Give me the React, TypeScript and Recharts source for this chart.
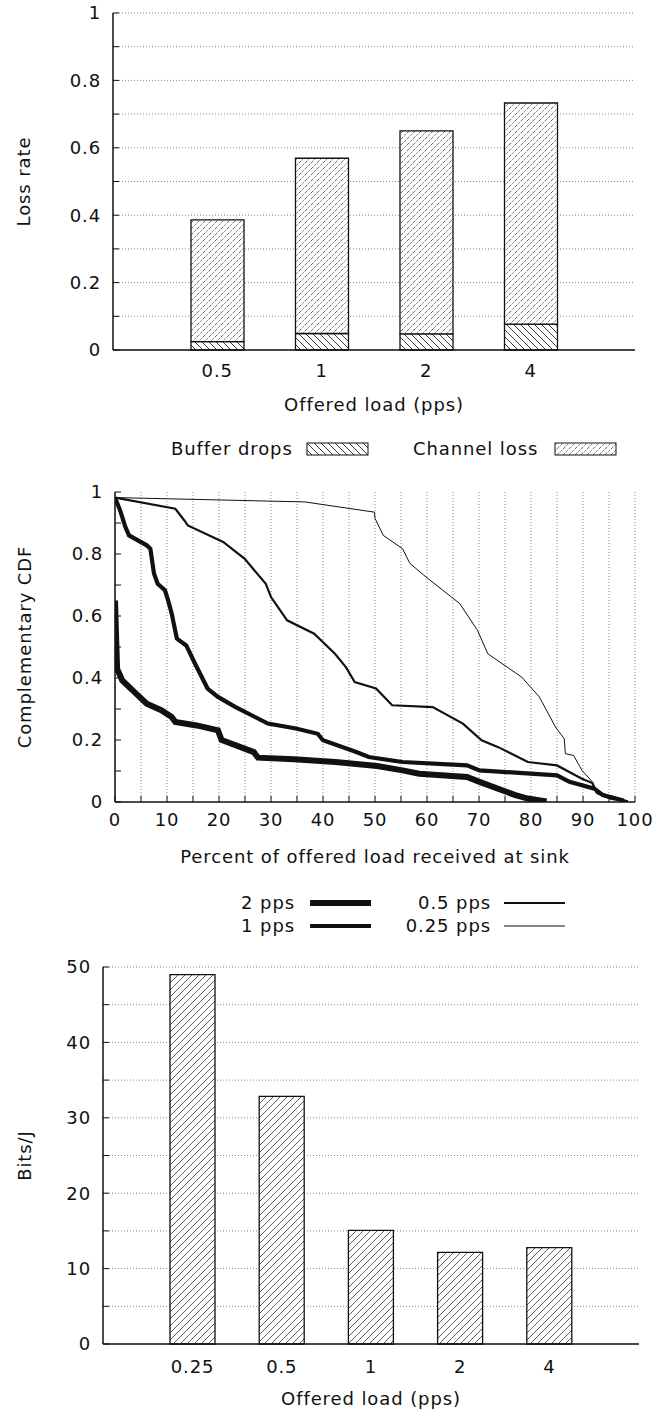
import { BarChart, Bar, LineChart, Line, XAxis, YAxis, CartesianGrid } from 'recharts';

const INK = '#111';
const GRID = '#8a8a8a';
const FONT = "'DejaVu Sans', sans-serif";

// --- top chart: loss rate, stacked
const LOADS_TOP = ['0.5', '1', '2', '4'];
const BUFFER_DROPS = [0.025, 0.049, 0.048, 0.077];
const CHANNEL_LOSS = [0.361, 0.52, 0.602, 0.656];
const LOSS_TICKS = [0, 0.1, 0.2, 0.3, 0.4, 0.5, 0.6, 0.7, 0.8, 0.9, 1];
const LOSS_LABELS = ['0', '', '0.2', '', '0.4', '', '0.6', '', '0.8', '', '1'];

// --- middle chart: complementary CDF per offered load
const CDF_X_TICKS = [0, 5, 10, 15, 20, 25, 30, 35, 40, 45, 50, 55, 60, 65, 70, 75, 80, 85, 90, 95, 100];
const CDF_X_LABELS = ['0', '', '10', '', '20', '', '30', '', '40', '', '50', '', '60', '', '70', '', '80', '', '90', '', '100'];
const CDF_Y_TICKS = [0, 0.1, 0.2, 0.3, 0.4, 0.5, 0.6, 0.7, 0.8, 0.9, 1];
const CDF_Y_LABELS = ['0', '', '0.2', '', '0.4', '', '0.6', '', '0.8', '', '1'];

const PPS2_X = [0, 0.4, 1.4, 4.1, 6.1, 8.9, 10.9, 11.6, 15.7, 19.8, 20.5, 26.7, 27.5, 34.4, 42.4, 50.4, 55.3, 58.5, 67.7, 70.1, 77, 79.4, 83];
const PPS2_Y = [0.65, 0.43, 0.392, 0.349, 0.317, 0.296, 0.274, 0.258, 0.247, 0.231, 0.2, 0.161, 0.143, 0.138, 0.129, 0.116, 0.102, 0.091, 0.081, 0.065, 0.022, 0.011, 0.002];

const PPS1_X = [0, 1, 2, 2.7, 6.1, 6.8, 7.5, 8.2, 9.6, 10.2, 10.9, 11.9, 13.7, 15.4, 17.8, 19.8, 23.2, 29.4, 34.8, 39, 40, 46.4, 48.8, 55.3, 67.7, 70.1, 85, 87.4, 92.2, 93.8, 97.8];
const PPS1_Y = [0.982, 0.94, 0.887, 0.86, 0.828, 0.817, 0.737, 0.704, 0.683, 0.651, 0.608, 0.527, 0.505, 0.446, 0.366, 0.339, 0.306, 0.253, 0.237, 0.22, 0.199, 0.161, 0.145, 0.129, 0.118, 0.102, 0.086, 0.065, 0.043, 0.022, 0.005];

const PPS05_X = [0, 11.6, 13.3, 14, 20.8, 24.9, 29, 30, 33.1, 38.3, 42.3, 44.4, 46.1, 50.2, 53.3, 61.1, 66.9, 70.5, 73.7, 79.4, 85, 89.8, 91.8, 92.6, 98.6];
const PPS05_Y = [0.982, 0.946, 0.909, 0.892, 0.839, 0.785, 0.704, 0.661, 0.586, 0.543, 0.478, 0.435, 0.387, 0.366, 0.312, 0.306, 0.253, 0.199, 0.177, 0.129, 0.118, 0.075, 0.061, 0.032, 0.002];

const PPS025_X = [0, 36.5, 49.9, 50, 51.6, 55.3, 56.7, 59.8, 66.3, 69.7, 71.7, 78.2, 79.9, 81.6, 84.7, 86.4, 86.6, 88.2, 89.8, 91.8, 92.6, 95.4, 98.6];
const PPS025_Y = [0.982, 0.968, 0.935, 0.915, 0.86, 0.817, 0.77, 0.726, 0.64, 0.554, 0.478, 0.403, 0.371, 0.339, 0.242, 0.204, 0.156, 0.15, 0.102, 0.065, 0.027, 0.008, 0.002];

// --- bottom chart: energy efficiency
const LOADS_BOTTOM = ['0.25', '0.5', '1', '2', '4'];
const BITS_PER_J = [49.0, 32.85, 15.07, 12.16, 12.78];
const BITS_TICKS = [0, 5, 10, 15, 20, 25, 30, 35, 40, 45, 50];
const BITS_LABELS = ['0', '', '10', '', '20', '', '30', '', '40', '', '50'];

const zip = (xs: number[], ys: number[]) => xs.map((x, i) => ({ x, y: ys[i] }));

const CDF_SERIES = [
  { name: '2 pps', data: zip(PPS2_X, PPS2_Y), width: 6 },
  { name: '1 pps', data: zip(PPS1_X, PPS1_Y), width: 4.2 },
  { name: '0.5 pps', data: zip(PPS05_X, PPS05_Y), width: 2.2 },
  { name: '0.25 pps', data: zip(PPS025_X, PPS025_Y), width: 1 },
];

function Hatches({ p }: { p: string }) {
  return (
    <defs>
      <pattern id={`${p}-buf`} patternUnits="userSpaceOnUse" width="7" height="7">
        <rect width="7" height="7" fill="#fff" />
        <path d="M0,0 L7,7 M-1,6 L1,8 M6,-1 L8,1" stroke="#222" strokeWidth="0.9" />
      </pattern>
      <pattern id={`${p}-chan`} patternUnits="userSpaceOnUse" width="6" height="6">
        <rect width="6" height="6" fill="#fff" />
        <path d="M0,6 L6,0 M-1,1 L1,-1 M5,7 L7,5" stroke="#444" strokeWidth="0.8" strokeDasharray="2 1.3" />
      </pattern>
      <pattern id={`${p}-bits`} patternUnits="userSpaceOnUse" width="7" height="7">
        <rect width="7" height="7" fill="#fff" />
        <path d="M0,7 L7,0 M-1,1 L1,-1 M6,8 L8,6" stroke="#333" strokeWidth="0.8" />
      </pattern>
    </defs>
  );
}

const yTick = (ticks: number[], labels: string[]) => (props: any) => {
  const { x, y, payload } = props;
  const lab = labels[ticks.indexOf(payload.value)];
  return (
    <g>
      <line x1={x} x2={x + 6} y1={y} y2={y} stroke={INK} strokeWidth={1} />
      {lab ? (
        <text x={x - 12} y={y} dy="0.36em" textAnchor="end" fill={INK} fontSize={18}>{lab}</text>
      ) : null}
    </g>
  );
};

const xTick = (gap: number, ticks?: number[], labels?: string[]) => (props: any) => {
  const { x, y, payload } = props;
  const lab = ticks && labels ? labels[ticks.indexOf(payload.value)] : String(payload.value);
  return (
    <g>
      {ticks ? <line x1={x} x2={x} y1={y - gap} y2={y - gap - 6} stroke={INK} strokeWidth={1} /> : null}
      {lab ? (
        <text x={x} y={y} dy="0.36em" textAnchor="middle" fill={INK} fontSize={18}>{lab}</text>
      ) : null}
    </g>
  );
};

const axisLine = { stroke: INK, strokeWidth: 1.5 };
const yTitle = (value: string, offset: number) => ({
  value, angle: -90, position: 'insideLeft' as const, offset, fill: INK, fontSize: 18,
  style: { textAnchor: 'middle' },
});
const xTitle = (value: string) => ({
  value, position: 'insideTop' as const, offset: 48, fill: INK, fontSize: 18,
});

function LossChart() {
  const data = LOADS_TOP.map((load, i) => ({ load, buffer: BUFFER_DROPS[i], channel: CHANNEL_LOSS[i] }));
  return (
    <BarChart width={660} height={420} data={data} margin={{ top: 13, right: 25, bottom: 0, left: 0 }}>
      <Hatches p="c1" />
      <CartesianGrid vertical={false} stroke={GRID} strokeDasharray="1 2" />
      <XAxis dataKey="load" type="category" padding={{ left: 52, right: 52 }} interval={0}
        tickLine={false} tickSize={0} tickMargin={21} height={70} axisLine={axisLine}
        tick={xTick(21)} label={xTitle('Offered load (pps)')} />
      <YAxis type="number" domain={[0, 1]} ticks={LOSS_TICKS} interval={0} width={113}
        tickLine={false} tickSize={0} tickMargin={0} axisLine={axisLine}
        tick={yTick(LOSS_TICKS, LOSS_LABELS)} label={yTitle('Loss rate', 24)} />
      <Bar dataKey="buffer" stackId="loss" barSize={53} fill="url(#c1-buf)" stroke={INK} strokeWidth={1.3} isAnimationActive={false} />
      <Bar dataKey="channel" stackId="loss" barSize={53} fill="url(#c1-chan)" stroke={INK} strokeWidth={1.3} isAnimationActive={false} />
    </BarChart>
  );
}

function LossLegend() {
  return (
    <svg width={660} height={40} style={{ position: 'absolute', left: 0, top: 430 }}>
      <Hatches p="lg" />
      <text x={171} y={19} dy="0.36em" fill={INK} fontSize={18}>Buffer drops</text>
      <rect x={307} y={13} width={61} height={12} fill="url(#lg-buf)" stroke={INK} strokeWidth={1} />
      <text x={413} y={19} dy="0.36em" fill={INK} fontSize={18}>Channel loss</text>
      <rect x={555} y={13} width={61} height={12} fill="url(#lg-chan)" stroke={INK} strokeWidth={1} />
    </svg>
  );
}

function CdfChart() {
  return (
    <LineChart width={660} height={402} margin={{ top: 22, right: 25, bottom: 0, left: 0 }}>
      <CartesianGrid horizontal={false} stroke={GRID} strokeDasharray="1 2" />
      <XAxis dataKey="x" type="number" domain={[0, 100]} ticks={CDF_X_TICKS} interval={0} allowDataOverflow
        tickLine={false} tickSize={0} tickMargin={18} height={70} axisLine={axisLine}
        tick={xTick(18, CDF_X_TICKS, CDF_X_LABELS)} label={xTitle('Percent of offered load received at sink')} />
      <YAxis type="number" domain={[0, 1]} ticks={CDF_Y_TICKS} interval={0} width={115} allowDataOverflow
        tickLine={false} tickSize={0} tickMargin={0} axisLine={axisLine}
        tick={yTick(CDF_Y_TICKS, CDF_Y_LABELS)} label={yTitle('Complementary CDF', 25)} />
      {CDF_SERIES.map((s) => (
        <Line key={s.name} name={s.name} data={s.data} dataKey="y" type="linear" dot={false}
          stroke={INK} strokeWidth={s.width} isAnimationActive={false} />
      ))}
    </LineChart>
  );
}

function CdfLegend() {
  const rows = [
    { s: CDF_SERIES[0], tx: 295, lx: 310, y: 18 },
    { s: CDF_SERIES[1], tx: 295, lx: 310, y: 41 },
    { s: CDF_SERIES[2], tx: 491, lx: 504, y: 18 },
    { s: CDF_SERIES[3], tx: 491, lx: 504, y: 41 },
  ];
  return (
    <svg width={660} height={60} style={{ position: 'absolute', left: 0, top: 885 }}>
      {rows.map((r) => (
        <g key={r.s.name}>
          <text x={r.tx} y={r.y} dy="0.36em" textAnchor="end" fill={INK} fontSize={18}>{r.s.name}</text>
          <line x1={r.lx} x2={r.lx + 61} y1={r.y} y2={r.y} stroke={INK} strokeWidth={r.s.width} />
        </g>
      ))}
    </svg>
  );
}

function BitsChart() {
  const data = LOADS_BOTTOM.map((load, i) => ({ load, bits: BITS_PER_J[i] }));
  return (
    <BarChart width={660} height={464} data={data} margin={{ top: 17, right: 21, bottom: 0, left: 0 }}>
      <Hatches p="c3" />
      <CartesianGrid vertical={false} stroke={GRID} strokeDasharray="1 2" />
      <XAxis dataKey="load" type="category" padding={{ left: 45, right: 45 }} interval={0}
        tickLine={false} tickSize={0} tickMargin={23} height={70} axisLine={axisLine}
        tick={xTick(23)} label={xTitle('Offered load (pps)')} />
      <YAxis type="number" domain={[0, 50]} ticks={BITS_TICKS} interval={0} width={103}
        tickLine={false} tickSize={0} tickMargin={0} axisLine={axisLine}
        tick={yTick(BITS_TICKS, BITS_LABELS)} label={yTitle('Bits/J', 25)} />
      <Bar dataKey="bits" barSize={45} fill="url(#c3-bits)" stroke={INK} strokeWidth={1.3} isAnimationActive={false} />
    </BarChart>
  );
}

export default function App() {
  return (
    <div style={{
      position: 'absolute', left: 0, top: 0, width: 660, height: 1414, background: '#fff',
      fontFamily: FONT, fontSize: 18, letterSpacing: '0.9px', color: INK, overflow: 'hidden',
    }}>
      <div style={{ position: 'absolute', left: 0, top: 0 }}><LossChart /></div>
      <LossLegend />
      <div style={{ position: 'absolute', left: 0, top: 470 }}><CdfChart /></div>
      <CdfLegend />
      <div style={{ position: 'absolute', left: 0, top: 950 }}><BitsChart /></div>
    </div>
  );
}
